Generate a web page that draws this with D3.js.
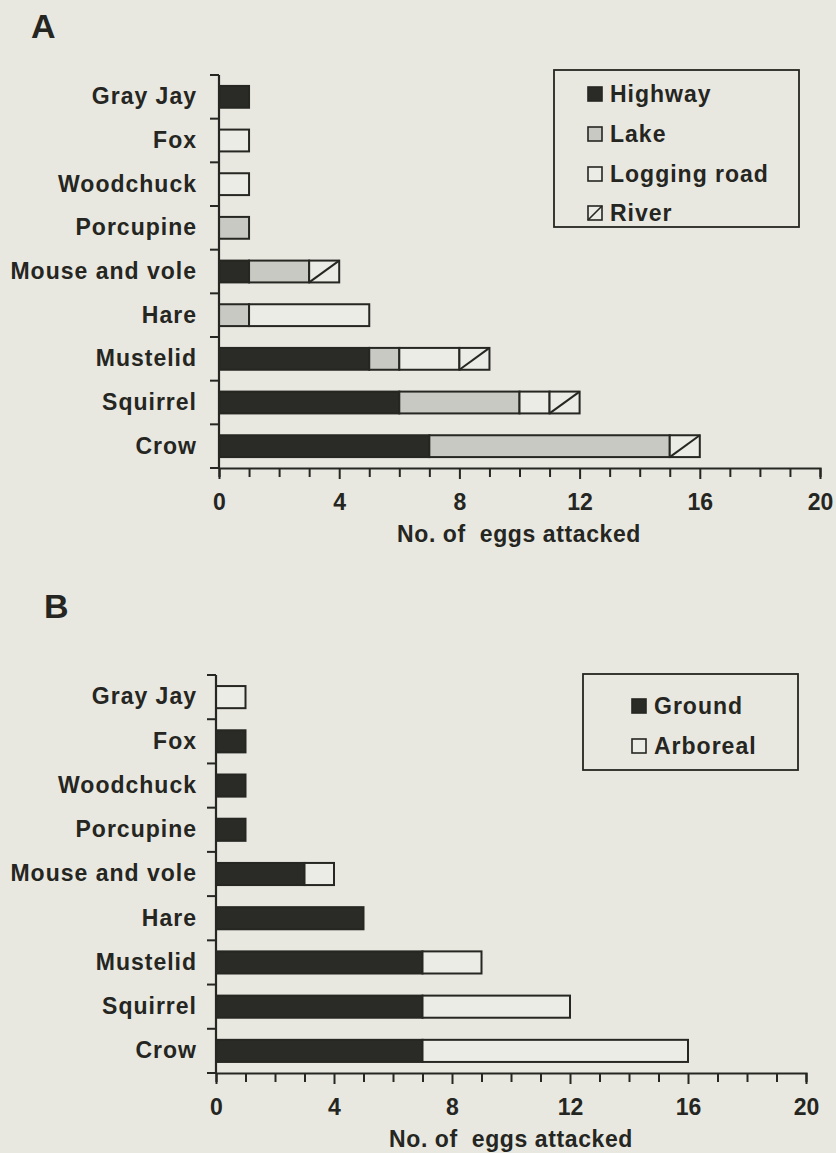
<!DOCTYPE html>
<html>
<head>
<meta charset="utf-8">
<script src="https://cdn.jsdelivr.net/npm/d3@7"></script>
<style>
  body { margin: 0; background: #e8e8e0; }
  svg { display: block; }
  text { font-family: "Liberation Sans", Arial, Helvetica, sans-serif; font-weight: bold; fill: #252522; }
</style>
</head>
<body>
<div id="chart"></div>
<script>
// Egg predation by predator type

// Data
var species = ["Gray Jay", "Fox", "Woodchuck", "Porcupine", "Mouse and vole", "Hare", "Mustelid", "Squirrel", "Crow"];

// panel A: by habitat
var habitats = ["Highway", "Lake", "Logging road", "River"];
var highway     = [1, 0, 0, 0, 1, 0, 5, 6, 7];
var lake        = [0, 0, 0, 1, 2, 1, 1, 4, 8];
var loggingRoad = [0, 1, 1, 0, 0, 4, 2, 1, 0];
var river       = [0, 0, 0, 0, 1, 0, 1, 1, 1];

// panel B: by nest height
var strata   = ["Ground", "Arboreal"];
var ground   = [0, 1, 1, 1, 3, 5, 7, 7, 7];
var arboreal = [1, 0, 0, 0, 1, 0, 2, 5, 9];

var xTickLabels = [0, 4, 8, 12, 16, 20];
var axisTitle = "No. of  eggs attacked";

var svgWidth = 836;
var svgHeight = 1153;
var ink = "#262622";

var fills = {
  "Highway": "#2a2a26",
  "Lake": "#c9c9c4",
  "Logging road": "#ecece6",
  "River": "#ecece6",
  "Ground": "#2a2a26",
  "Arboreal": "#ecece6"
};

var svg = d3.select("#chart")
    .append("svg")
    .attr("width", svgWidth)
    .attr("height", svgHeight);

function drawPanel(opts) {
  var g = svg.append("g");

  var xScale = d3.scaleLinear()
    .domain([0, 20])
    .range([opts.left, opts.right]);

  var yBand = d3.scaleBand()
    .domain(species)
    .range([opts.top, opts.bottom])
    .paddingInner(0.5)
    .paddingOuter(0.25);

  var step = yBand.step();

  // rows for the stack
  var rows = species.map(function(s, i) {
    var row = { species: s };
    opts.keys.forEach(function(k, j) { row[k] = opts.series[j][i]; });
    return row;
  });
  var stacked = d3.stack().keys(opts.keys)(rows);

  // bars
  stacked.forEach(function(layer) {
    var key = layer.key;
    var segs = layer.filter(function(d) { return d[1] - d[0] > 0; });

    g.selectAll("rect.seg-" + key.replace(/ /g, ""))
      .data(segs)
      .enter()
      .append("rect")
      .attr("x", d => xScale(d[0]))
      .attr("y", d => yBand(d.data.species))
      .attr("width", d => xScale(d[1]) - xScale(d[0]))
      .attr("height", yBand.bandwidth())
      .attr("fill", fills[key])
      .attr("stroke", ink)
      .attr("stroke-width", 2);

    if (key === "River") {
      g.selectAll("line.hatch")
        .data(segs)
        .enter()
        .append("line")
        .attr("x1", d => xScale(d[0]))
        .attr("y1", d => yBand(d.data.species) + yBand.bandwidth())
        .attr("x2", d => xScale(d[1]))
        .attr("y2", d => yBand(d.data.species))
        .attr("stroke", ink)
        .attr("stroke-width", 2);
    }
  });

  // y axis line and boundary ticks
  g.append("line")
    .attr("x1", opts.left).attr("x2", opts.left)
    .attr("y1", opts.top).attr("y2", opts.bottom)
    .attr("stroke", ink).attr("stroke-width", 2.2);

  var bounds = d3.range(species.length + 1).map(i => opts.top + i * step);
  g.selectAll("line.ytick")
    .data(bounds)
    .enter()
    .append("line")
    .attr("x1", opts.left - 9).attr("x2", opts.left)
    .attr("y1", d => d).attr("y2", d => d)
    .attr("stroke", ink).attr("stroke-width", 2);

  // category labels
  var leftAxis = d3.axisLeft(yBand).tickSize(0).tickPadding(opts.left - 197);
  var yAxisG = g.append("g")
    .attr("transform", `translate(${opts.left}, 0)`)
    .call(leftAxis);
  yAxisG.select(".domain").remove();
  yAxisG.selectAll("text")
    .attr("font-size", "23px")
    .attr("letter-spacing", "1px")
    .attr("font-family", null)
    .attr("fill", ink);

  // x axis
  var bottomAxis = d3.axisBottom(xScale)
    .tickValues(d3.range(0, 21))
    .tickSize(9)
    .tickPadding(17)
    .tickFormat(d => xTickLabels.indexOf(d) >= 0 ? d : "");
  var xAxisG = g.append("g")
    .attr("transform", `translate(0, ${opts.bottom})`)
    .call(bottomAxis);
  xAxisG.select(".domain")
    .attr("stroke", ink).attr("stroke-width", 2.2);
  xAxisG.selectAll(".tick line")
    .attr("stroke", ink).attr("stroke-width", 2)
    .attr("y2", d => xTickLabels.indexOf(d) >= 0 ? 11 : 9);
  xAxisG.selectAll("text")
    .attr("font-size", "23px")
    .attr("font-family", null)
    .attr("fill", ink);

  // axis title
  g.append("text")
    .attr("x", opts.titleX)
    .attr("y", opts.bottom + 74)
    .attr("text-anchor", "middle")
    .attr("font-size", "23px")
    .attr("letter-spacing", "0.6px")
    .style("white-space", "pre")
    .text(axisTitle);

  // panel letter
  g.append("text")
    .attr("x", opts.letterX)
    .attr("y", opts.letterY)
    .attr("font-size", "34px")
    .text(opts.letter);

  // legend
  var lg = g.append("g");
  lg.append("rect")
    .attr("x", opts.legend.x)
    .attr("y", opts.legend.y)
    .attr("width", opts.legend.w)
    .attr("height", opts.legend.h)
    .attr("fill", "none")
    .attr("stroke", ink)
    .attr("stroke-width", 1.8);

  var items = lg.selectAll("g.item")
    .data(opts.keys)
    .enter()
    .append("g")
    .attr("transform", (d, i) => `translate(${opts.legend.symX}, ${opts.legend.rowY[i]})`);

  items.append("rect")
    .attr("x", 0).attr("y", -7)
    .attr("width", 14).attr("height", 14)
    .attr("fill", d => fills[d])
    .attr("stroke", ink)
    .attr("stroke-width", 1.6);

  items.filter(d => d === "River")
    .append("line")
    .attr("x1", 0).attr("y1", 7)
    .attr("x2", 14).attr("y2", -7)
    .attr("stroke", ink).attr("stroke-width", 1.6);

  items.append("text")
    .attr("x", 22)
    .attr("y", 8)
    .attr("font-size", "23px")
    .attr("letter-spacing", "1px")
    .text(d => d);
}

drawPanel({
  letter: "A", letterX: 31, letterY: 38,
  left: 219, right: 820, top: 75, bottom: 468,
  titleX: 519,
  keys: habitats,
  series: [highway, lake, loggingRoad, river],
  legend: { x: 554, y: 70, w: 245, h: 157, symX: 588, rowY: [94, 134, 174, 213] }
});

drawPanel({
  letter: "B", letterX: 44, letterY: 618,
  left: 216, right: 806, top: 675, bottom: 1073,
  titleX: 511,
  keys: strata,
  series: [ground, arboreal],
  legend: { x: 583, y: 674, w: 215, h: 96, symX: 632, rowY: [706, 746] }
});
</script>
</body>
</html>
